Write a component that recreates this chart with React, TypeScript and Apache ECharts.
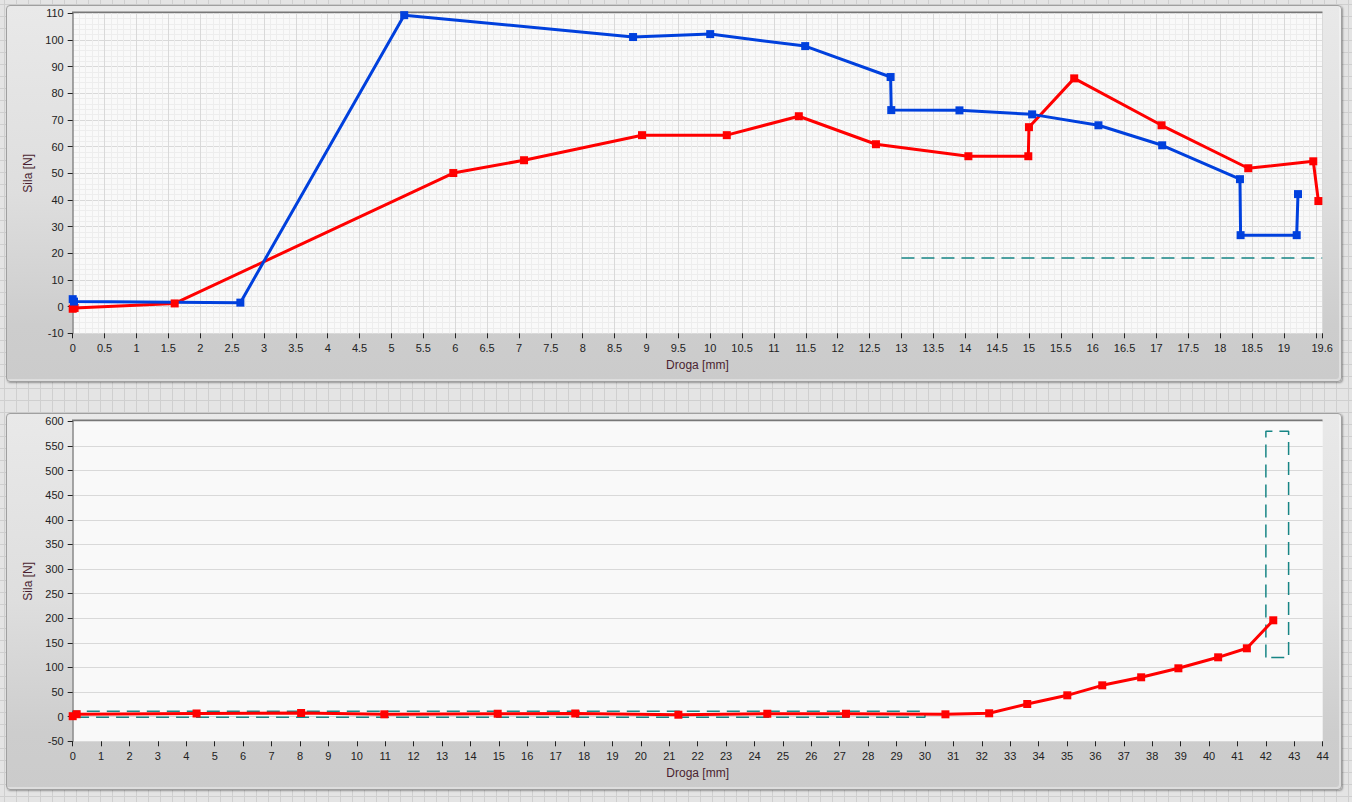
import React, { useEffect, useRef } from "react";
import * as echarts from "echarts";

// ---- Top chart data ----
const topBlueX = [0, 0.02, 2.63, 5.2, 8.79, 10.0, 11.49, 12.83, 12.84, 13.91, 15.05, 16.09, 17.09, 18.31, 18.32, 19.2, 19.22];
const topBlueY = [2.8, 1.9, 1.5, 109.3, 101.1, 102.2, 97.7, 86.1, 73.7, 73.6, 72.1, 68.0, 60.5, 47.8, 26.8, 26.8, 42.2];
const topRedX = [0, 0.03, 1.6, 5.97, 7.08, 8.93, 10.26, 11.39, 12.6, 14.05, 14.99, 15.0, 15.71, 17.08, 18.44, 19.46, 19.54];
const topRedY = [-0.8, -0.5, 1.2, 50.1, 54.9, 64.3, 64.3, 71.4, 60.9, 56.4, 56.4, 67.3, 85.6, 68.0, 51.9, 54.5, 39.6];
const topLimitX = [13, 19.6];
const topLimitY = [18.2, 18.2];

// ---- Bottom chart data ----
const botRedX = [0, 0.14, 4.36, 8.04, 10.97, 14.96, 17.69, 21.32, 24.45, 27.22, 30.72, 32.26, 33.6, 35.01, 36.24, 37.61, 38.92, 40.32, 41.33, 42.26];
const botRedY = [1, 5, 6.5, 7.5, 4.8, 6, 6.5, 4, 6, 6, 4.8, 6.9, 25.8, 43.4, 63.7, 80, 98.3, 120.6, 138.9, 195.8];
const botLimitLowX = [0, 0, 30, 30, 0];
const botLimitLowY = [-1, 11, 11, -1, -1];
const botLimitHighX = [42, 42, 42.8, 42.8, 42];
const botLimitHighY = [120, 580, 580, 120, 120];

// ---- Axis settings ----
const xName = "Droga [mm]";
const yName = "Sila [N]";
const topX = { min: 0, max: 19.6, interval: 0.5 };
const topY = { min: -10, max: 110, interval: 10 };
const botX = { min: 0, max: 44, interval: 1 };
const botY = { min: -50, max: 600, interval: 50 };

const zip = (xs: number[], ys: number[]) => xs.map((x, i) => [x, ys[i]]);

const RED = "#ff0000";
const BLUE = "#0040dd";
const TEAL = "#178585";
const FONT = "Liberation Sans";

export default function App() {
  const ref = useRef<HTMLDivElement>(null);
  useEffect(() => {
    if (!ref.current) return;
    const chart = echarts.init(ref.current, undefined, { renderer: "svg" });
    const labelStyle = { color: "#222", fontSize: 11, fontFamily: FONT };
    const nameStyle = { color: "#4a1f30", fontSize: 12, fontFamily: FONT };
    const xAxisBase = (range: any, gridIndex: number, minor: boolean, fmt?: (v: number) => string) => ({
      type: "value",
      gridIndex,
      ...range,
      name: xName,
      nameLocation: "middle",
      nameGap: 26,
      nameTextStyle: nameStyle,
      axisLine: { show: false, onZero: false },
      axisTick: { show: true, length: 5, lineStyle: { color: "#222" } },
      axisLabel: { ...labelStyle, margin: 9, interval: 0, showMaxLabel: true, formatter: fmt },
      splitLine: { show: minor, lineStyle: { color: "#d9d9d9", width: 1 } },
      minorTick: { show: false, splitNumber: 5 },
      minorSplitLine: { show: minor, lineStyle: { color: "#ededed", width: 1 } },
    });
    const yAxisBase = (range: any, gridIndex: number, minor: boolean) => ({
      type: "value",
      gridIndex,
      ...range,
      name: yName,
      nameLocation: "middle",
      nameGap: 31,
      nameTextStyle: nameStyle,
      axisLine: { show: true, onZero: false, lineStyle: { color: "#888", width: 1.5 } },
      axisTick: { show: true, length: 5, lineStyle: { color: "#222" } },
      axisLabel: { ...labelStyle, margin: 9 },
      splitLine: { show: true, lineStyle: { color: "#d9d9d9", width: 1 } },
      minorTick: { show: false, splitNumber: 5 },
      minorSplitLine: { show: minor, lineStyle: { color: "#ededed", width: 1 } },
    });
    const lineSeries = (data: number[][], color: string, xi: number) => ({
      type: "line",
      xAxisIndex: xi,
      yAxisIndex: xi,
      data,
      symbol: "rect",
      symbolSize: 8,
      showSymbol: true,
      itemStyle: { color },
      lineStyle: { color, width: 3 },
      z: 3,
    });
    const limitSeries = (data: number[][], xi: number) => ({
      type: "line",
      xAxisIndex: xi,
      yAxisIndex: xi,
      data,
      symbol: "none",
      silent: true,
      lineStyle: { color: TEAL, width: 1.5, type: [13, 7] },
      z: 2,
    });
    chart.setOption({
      animation: false,
      backgroundColor: "transparent",
      grid: [
        { left: 72.7, top: 13.3, width: 1249.5, height: 320, show: true, backgroundColor: "#f9f9f9", borderWidth: 0 },
        { left: 72.7, top: 421.3, width: 1250, height: 320, show: true, backgroundColor: "#f9f9f9", borderWidth: 0 },
      ],
      xAxis: [
        xAxisBase(topX, 0, true, (v: number) => (Math.abs(v - 19.5) < 1e-9 ? "" : String(v))),
        xAxisBase(botX, 1, false),
      ],
      yAxis: [yAxisBase(topY, 0, true), yAxisBase(botY, 1, false)],
      series: [
        limitSeries(zip(topLimitX, topLimitY), 0),
        lineSeries(zip(topRedX, topRedY), RED, 0),
        lineSeries(zip(topBlueX, topBlueY), BLUE, 0),
        limitSeries(zip(botLimitLowX, botLimitLowY), 1),
        limitSeries(zip(botLimitHighX, botLimitHighY), 1),
        lineSeries(zip(botRedX, botRedY), RED, 1),
      ],
      graphic: [
        { type: "line", shape: { x1: 72, y1: 12.5, x2: 1322.5, y2: 12.5 }, style: { stroke: "#777", lineWidth: 2 }, silent: true },
        { type: "line", shape: { x1: 72, y1: 420.5, x2: 1322.5, y2: 420.5 }, style: { stroke: "#777", lineWidth: 2 }, silent: true },
      ],
    });
    return () => chart.dispose();
  }, []);

  const panel = (top: number, height: number): React.CSSProperties => ({
    position: "absolute",
    left: 6,
    top,
    width: 1336,
    height,
    boxSizing: "border-box",
    borderRadius: 4,
    border: "1px solid #a0a0a0",
    boxShadow: "1px 1px 2px rgba(0,0,0,0.35), inset -2px -2px 0 rgba(255,255,255,0.35)",
    background: "linear-gradient(to bottom, #e9e9e9 0%, #dedede 50%, #cdcdcd 85%, #cbcbcb 100%)",
  });

  return (
    <div
      style={{
        position: "fixed",
        left: 0,
        top: 0,
        width: 1352,
        height: 802,
        overflow: "hidden",
        backgroundColor: "#e4e4e4",
        backgroundImage:
          "linear-gradient(#cfcfcf 1px, transparent 1px), linear-gradient(90deg, #cfcfcf 1px, transparent 1px)",
        backgroundSize: "12px 12px",
        backgroundPosition: "4px 4px",
      }}
    >
      <div style={panel(5, 377)} />
      <div style={panel(413, 377)} />
      <div ref={ref} style={{ position: "absolute", left: 0, top: 0, width: 1352, height: 802 }} />
    </div>
  );
}
